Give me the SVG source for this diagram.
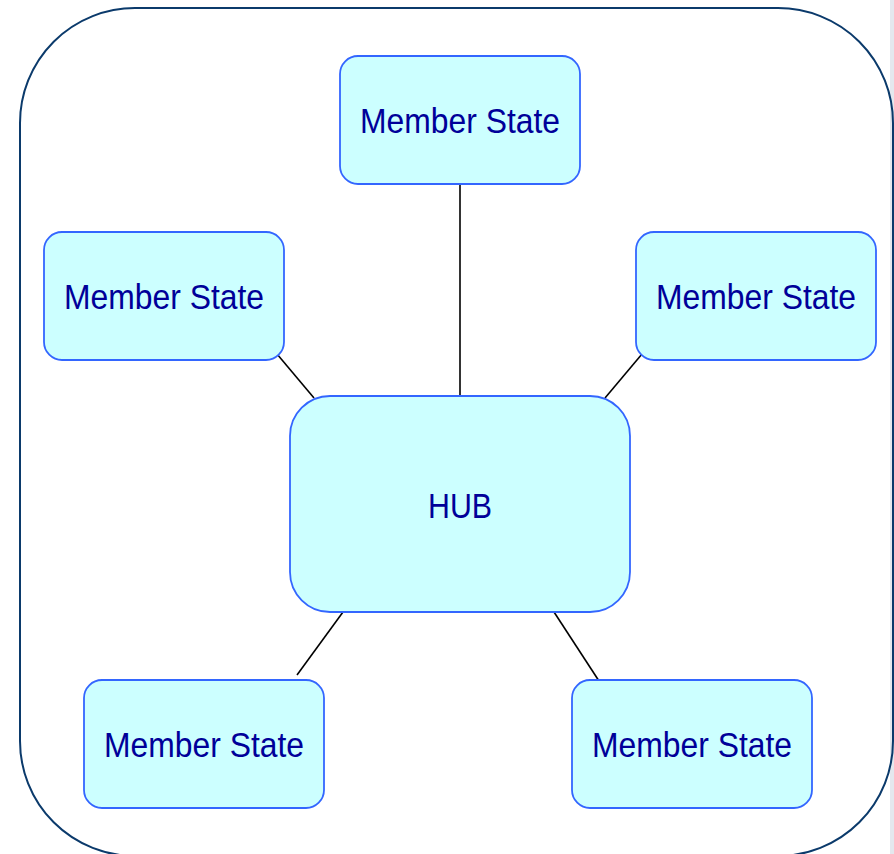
<svg xmlns="http://www.w3.org/2000/svg" width="894" height="854" viewBox="0 0 894 854">
  <style>
    .box { fill: #CCFFFF; stroke: #3366FF; stroke-width: 1.8; }
    .lbl { font-family: "Liberation Sans", Arial, sans-serif; font-size: 35px; fill: #000099; text-anchor: middle; }
    .conn { stroke: #000000; stroke-width: 1.6; fill: none; }
  </style>
  <rect x="0" y="0" width="894" height="854" fill="#FFFFFF"/>
  <rect x="890" y="0" width="4" height="854" fill="#E4E8EE"/>
  <rect id="frame" x="20" y="8" width="873" height="848" rx="115" ry="115" fill="none" stroke="#0B3A6B" stroke-width="2"/>
  <g id="connectors">
    <line class="conn" x1="460" y1="184" x2="460" y2="396"/>
    <line class="conn" x1="277" y1="354" x2="314" y2="398"/>
    <line class="conn" x1="642" y1="354" x2="605" y2="398"/>
    <line class="conn" x1="343" y1="612" x2="297" y2="675"/>
    <line class="conn" x1="554" y1="612" x2="599" y2="681"/>
  </g>
  <g id="node-top">
    <rect class="box" x="340" y="56" width="240" height="128" rx="18"/>
    <text class="lbl" x="460" y="133" textLength="200" lengthAdjust="spacingAndGlyphs">Member State</text>
  </g>
  <g id="node-left">
    <rect class="box" x="44" y="232" width="240" height="128" rx="18"/>
    <text class="lbl" x="164" y="309" textLength="200" lengthAdjust="spacingAndGlyphs">Member State</text>
  </g>
  <g id="node-right">
    <rect class="box" x="636" y="232" width="240" height="128" rx="18"/>
    <text class="lbl" x="756" y="309" textLength="200" lengthAdjust="spacingAndGlyphs">Member State</text>
  </g>
  <g id="node-hub">
    <rect class="box" x="290" y="396" width="340" height="216" rx="40"/>
    <text class="lbl" x="460" y="518" textLength="64" lengthAdjust="spacingAndGlyphs">HUB</text>
  </g>
  <g id="node-bottom-left">
    <rect class="box" x="84" y="680" width="240" height="128" rx="18"/>
    <text class="lbl" x="204" y="757" textLength="200" lengthAdjust="spacingAndGlyphs">Member State</text>
  </g>
  <g id="node-bottom-right">
    <rect class="box" x="572" y="680" width="240" height="128" rx="18"/>
    <text class="lbl" x="692" y="757" textLength="200" lengthAdjust="spacingAndGlyphs">Member State</text>
  </g>
</svg>
